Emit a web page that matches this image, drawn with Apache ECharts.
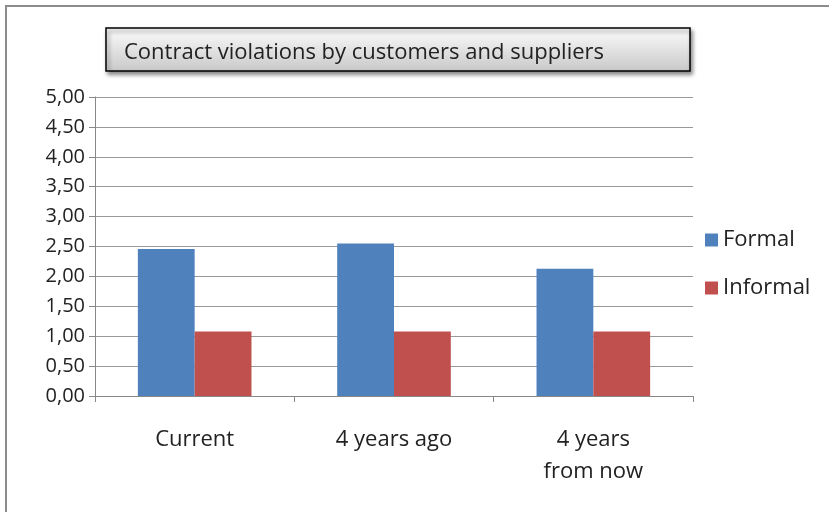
<!DOCTYPE html>
<html>
<head>
<meta charset="utf-8">
<script src="https://cdn.jsdelivr.net/npm/echarts@6/dist/echarts.min.js"></script>
<style>
  html, body { margin: 0; padding: 0; background: #fff; }
  #chart { width: 829px; height: 512px; }
</style>
</head>
<body>
<div id="chart"></div>
<script>
const categories = ['Current', '4 years ago', '4 years\nfrom now'];
const formal = [2.46, 2.55, 2.13];
const informal = [1.08, 1.08, 1.08];
const titleText = 'Contract violations by customers and suppliers';

const font = '"Open Sans", "Liberation Sans", sans-serif';
const myChart = echarts.init(document.getElementById('chart'));

const option = {
    animation: false,
    textStyle: { fontFamily: font },
    graphic: [
        {
            type: 'rect',
            shape: { x: 6, y: 6, width: 900, height: 600 },
            style: { fill: 'none', stroke: '#8c8c8c', lineWidth: 2 },
            silent: true
        },
        {
            type: 'rect',
            shape: { x: 106, y: 28, width: 584, height: 43 },
            style: {
                fill: new echarts.graphic.LinearGradient(0, 0, 0, 1, [
                    { offset: 0, color: '#fdfdfd' },
                    { offset: 1, color: '#c8c8c8' }
                ]),
                stroke: '#000',
                lineWidth: 1.5,
                shadowBlur: 4,
                shadowOffsetX: 2,
                shadowOffsetY: 3,
                shadowColor: 'rgba(0,0,0,0.45)'
            },
            silent: true
        }
    ],
    title: {
        text: titleText,
        left: 124,
        top: 42,
        padding: 0,
        textStyle: { fontFamily: font, fontSize: 22, fontWeight: 'normal', color: '#222' }
    },
    legend: {
        orient: 'vertical',
        left: 700,
        top: 224,
        itemWidth: 13,
        itemHeight: 13,
        itemGap: 26,
        icon: 'rect',
        textStyle: { fontFamily: font, fontSize: 22, color: '#222' },
        data: ['Formal', 'Informal']
    },
    grid: { left: 95, top: 97, width: 598, height: 299 },
    xAxis: {
        type: 'category',
        data: categories,
        axisLine: { lineStyle: { color: '#888', width: 1 } },
        axisTick: { show: true, length: 6, lineStyle: { color: '#888' } },
        axisLabel: { fontSize: 22, color: '#222', margin: 28, lineHeight: 32 }
    },
    yAxis: {
        type: 'value',
        min: 0,
        max: 5,
        interval: 0.5,
        axisLine: { show: true, lineStyle: { color: '#888' } },
        axisTick: { show: true, length: 6, lineStyle: { color: '#888' } },
        splitLine: { lineStyle: { color: '#999', width: 1 } },
        axisLabel: {
            fontSize: 20,
            color: '#222',
            margin: 10,
            formatter: v => v.toFixed(2).replace('.', ',')
        }
    },
    series: [
        {
            name: 'Formal',
            type: 'bar',
            data: formal,
            barGap: '0%',
            barCategoryGap: '43%',
            itemStyle: { color: '#4f81bd' }
        },
        {
            name: 'Informal',
            type: 'bar',
            data: informal,
            itemStyle: { color: '#c0504d' }
        }
    ]
};
myChart.setOption(option);
</script>
</body>
</html>
